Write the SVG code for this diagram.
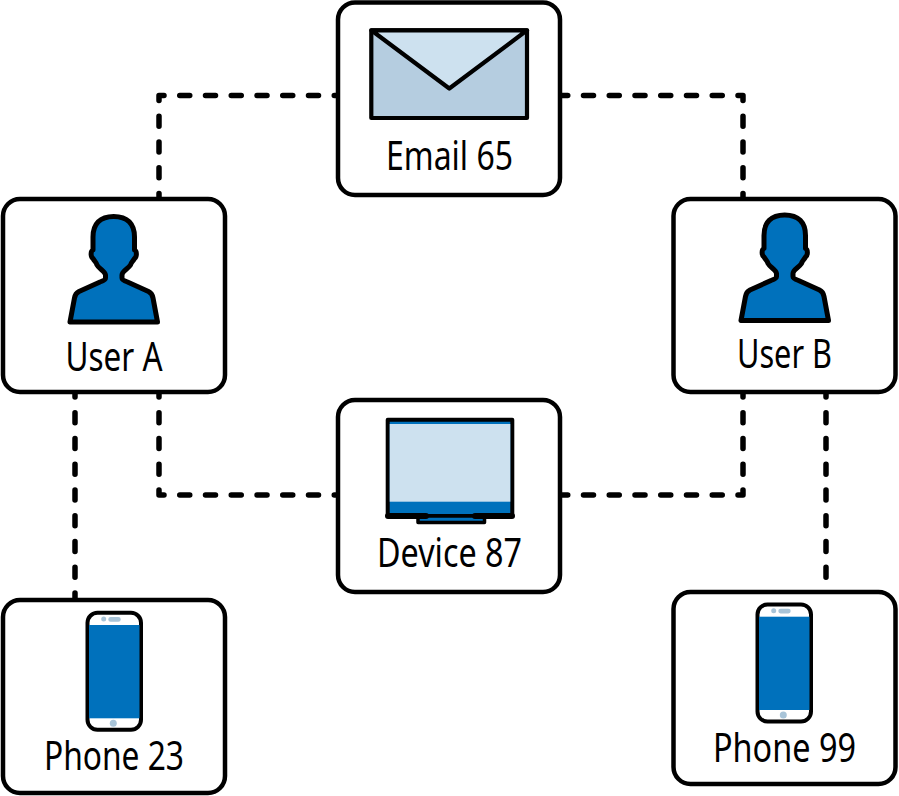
<svg xmlns="http://www.w3.org/2000/svg" width="899" height="796" viewBox="0 0 899 796">
<style>
.box{fill:#fff;stroke:#000;stroke-width:4.5}
.ln{fill:none;stroke:#000;stroke-width:5.5;stroke-linecap:round;stroke-dasharray:10 15.75;stroke-dashoffset:5}
.lb{font-family:"Noto Sans","Open Sans",sans-serif;font-size:40px;fill:#000;text-anchor:start}
.ic{stroke:#000;stroke-width:5;stroke-linejoin:round}
</style>
<defs>
<symbol id="person" overflow="visible" viewBox="0 0 899 796" width="899" height="796">
<path class="ic" fill="#0071bc" d="M113.700 216.500C100 216.500 93 224 93 237V250C90.500 251 90.500 257 93 258.500C95 262 96 262 97 265C99 269 105 271 105.500 275V278C105.500 280 103 281 100 282L79 291.500C76 293 75 295 74.500 298L70 322H157.500L153 298C152.500 295 151.500 293 148.500 291.500L127.500 282C124.500 281 122 280 122 278V275C122 271 128 269 130.500 265C131.500 262 132.500 262 134.500 258.500C137 257 137 251 134.500 250V237C134.500 224 127.500 216.500 113.700 216.500Z"/>
</symbol>
<symbol id="phone" overflow="visible" viewBox="0 0 899 796" width="899" height="796">
<rect x="87.500" y="612.800" width="53.500" height="117" rx="10" fill="#fff" stroke="#000" stroke-width="4"/>
<rect x="89" y="625" width="50.500" height="93.300" fill="#0071bc"/>
<circle cx="103.700" cy="619" r="2.500" fill="#a8c4d8"/>
<rect x="108.300" y="617" width="12.400" height="4.700" rx="2.300" fill="#a8c4d8"/>
<circle cx="113.300" cy="723.300" r="3.500" fill="#a8c4d8"/>
</symbol>
</defs>
<g id="connectors">
<path class="ln" d="M159 95.500V200M159 95.500H340"/>
<path class="ln" d="M743 95.500V200M743 95.500H560"/>
<path class="ln" d="M159 392V495M159 495H340" style="stroke-dashoffset:5"/>
<path class="ln" d="M743 392V495M743 495H560"/>
<path class="ln" d="M75 392V599"/>
<path class="ln" d="M826 392V591"/>
</g>
<g id="email">
<rect class="box" x="338" y="2.500" width="222" height="192.500" rx="17"/>
<rect x="371.300" y="30.300" width="155.700" height="87.700" fill="#b5cde0" stroke="#000" stroke-width="4.200" stroke-linejoin="round"/>
<path d="M371.300 30.300L449.300 88.500L527 30.300Z" fill="#cde1ef" stroke="#000" stroke-width="4.200" stroke-linejoin="round"/>
<text class="lb" x="386" y="170" textLength="127" lengthAdjust="spacingAndGlyphs">Email 65</text>
</g>
<g id="user-a">
<rect class="box" x="3" y="199" width="222" height="193" rx="17"/>
<use href="#person"/>
<text class="lb" x="65.500" y="370.500" textLength="97" lengthAdjust="spacingAndGlyphs">User A</text>
</g>
<g id="user-b">
<rect class="box" x="673.500" y="199" width="222" height="193" rx="17"/>
<use href="#person" x="671" y="-1.500"/>
<text class="lb" x="737" y="367.500" textLength="95" lengthAdjust="spacingAndGlyphs">User B</text>
</g>
<g id="device">
<rect class="box" x="338" y="400" width="222" height="192" rx="17"/>
<rect x="387.700" y="419.700" width="124.600" height="96.300" fill="#0071bc" stroke="#000" stroke-width="4" stroke-linejoin="round"/>
<rect x="389.700" y="424" width="120.600" height="77.700" fill="#cde1ef"/>
<path d="M418 516H484.500V522.500H418Z" fill="#0071bc" stroke="#000" stroke-width="3.500" stroke-linejoin="round"/>
<path d="M388 516H426M475 516H512" stroke="#000" stroke-width="6" stroke-linecap="round" fill="none"/>
<text class="lb" x="377" y="567" textLength="145" lengthAdjust="spacingAndGlyphs">Device 87</text>
</g>
<g id="phone-23">
<rect class="box" x="3" y="600" width="222" height="193" rx="17"/>
<use href="#phone"/>
<text class="lb" x="44" y="770" textLength="140" lengthAdjust="spacingAndGlyphs">Phone 23</text>
</g>
<g id="phone-99">
<rect class="box" x="673.500" y="592" width="222" height="192" rx="17"/>
<use href="#phone" x="670" y="-8.300"/>
<text class="lb" x="713" y="762" textLength="143" lengthAdjust="spacingAndGlyphs">Phone 99</text>
</g>
</svg>
